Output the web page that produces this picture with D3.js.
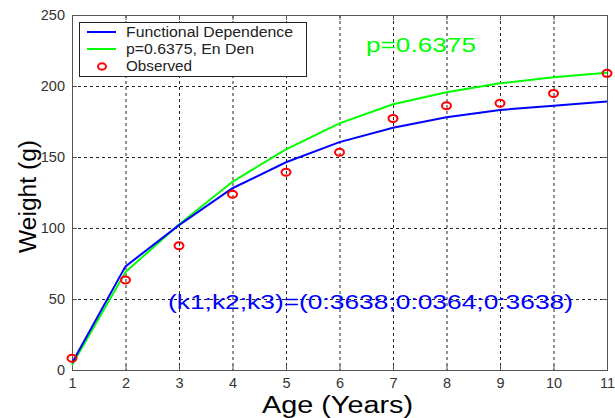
<!DOCTYPE html>
<html>
<head>
<meta charset="utf-8">
<script src="https://cdn.jsdelivr.net/npm/d3@7"></script>
<style>
  html, body { margin: 0; padding: 0; background: #fff; }
  svg { display: block; font-family: "Liberation Sans", Arial, sans-serif; }
</style>
</head>
<body>
<svg id="chart" width="615" height="418"></svg>
<script>
// Ages (years)
const ages = [1, 2, 3, 4, 5, 6, 7, 8, 9, 10, 11];
// Functional dependence model
const functionalWeight = [5, 73, 102, 128, 146.3, 160.5, 170.6, 178, 183.1, 186.1, 189];
// p = 0.6375, En Den model
const enDenWeight = [3.5, 69, 102.5, 132.6, 155.4, 173.7, 187.1, 195.6, 201.9, 206.1, 209.4];
// Observed weights
const observedWeight = [8.2, 63.4, 87.5, 123.7, 139.2, 153.3, 177.2, 186.1, 187.8, 194.8, 208.9];

const xTicks = [1, 2, 3, 4, 5, 6, 7, 8, 9, 10, 11];
const yTicks = [0, 50, 100, 150, 200, 250];
const legendLabels = ["Functional Dependence", "p=0.6375, En Den", "Observed"];
const pLabel = "p=0.6375";
const kLabel = "(k1;k2;k3)=(0:3638;0:0364;0:3638)";

const svg = d3.select("#chart");
const plotLeft = 72, plotRight = 607, plotTop = 15, plotBottom = 370;

const x = d3.scaleLinear().domain([1, 11]).range([plotLeft, plotRight]);
const y = d3.scaleLinear().domain([0, 250]).range([plotBottom, plotTop]);

const axisColor = "#555";
const gridColor = "#222";

// Dashed grid
const grid = svg.append("g");
grid.selectAll("line.vx").data(xTicks.slice(1, -1)).join("line")
  .attr("x1", d => x(d) + 0.5).attr("x2", d => x(d) + 0.5)
  .attr("y1", plotTop).attr("y2", plotBottom)
  .attr("stroke", gridColor).attr("stroke-width", 1).attr("stroke-dasharray", "3,3");
grid.selectAll("line.hy").data(yTicks.slice(1, -1)).join("line")
  .attr("x1", plotLeft).attr("x2", plotRight)
  .attr("y1", d => Math.round(y(d)) + 0.5).attr("y2", d => Math.round(y(d)) + 0.5)
  .attr("stroke", gridColor).attr("stroke-width", 1).attr("stroke-dasharray", "3,3");

// Axes
const xAxis = d3.axisBottom(x).tickValues(xTicks).tickSize(-5).tickPadding(8).tickFormat(d3.format("d"));
const yAxis = d3.axisLeft(y).tickValues(yTicks).tickSize(-5).tickPadding(7);
const xAxisTop = d3.axisTop(x).tickValues(xTicks).tickSize(-5).tickFormat("");
const yAxisRight = d3.axisRight(y).tickValues(yTicks).tickSize(-5).tickFormat("");

function styleAxis(g) {
  g.select(".domain").remove();
  g.selectAll(".tick line").attr("stroke", axisColor);
  g.selectAll(".tick text").attr("fill", "#333").style("font-size", "14.5px")
    .style("font-family", "'Liberation Sans', Arial, sans-serif");
}
svg.append("g").attr("transform", `translate(0,${plotBottom})`).call(xAxis).call(styleAxis);
svg.append("g").attr("transform", `translate(${plotLeft},0)`).call(yAxis).call(styleAxis);
svg.append("g").attr("transform", `translate(0,${plotTop})`).call(xAxisTop).call(styleAxis);
svg.append("g").attr("transform", `translate(${plotRight},0)`).call(yAxisRight).call(styleAxis);

// Frame
svg.append("rect")
  .attr("x", plotLeft + 0.5).attr("y", plotTop + 0.5)
  .attr("width", plotRight - plotLeft).attr("height", plotBottom - plotTop)
  .attr("fill", "none").attr("stroke", axisColor).attr("stroke-width", 1);

// Model curves
const line = d3.line().x(d => x(d[0])).y(d => y(d[1]));
svg.append("path")
  .datum(ages.map((a, i) => [a, enDenWeight[i]]))
  .attr("d", line).attr("fill", "none").attr("stroke", "#00ff00").attr("stroke-width", 2);
svg.append("path")
  .datum(ages.map((a, i) => [a, functionalWeight[i]]))
  .attr("d", line).attr("fill", "none").attr("stroke", "#0000ff").attr("stroke-width", 2);

// Observed points
svg.append("g").selectAll("ellipse").data(ages.map((a, i) => [a, observedWeight[i]])).join("ellipse")
  .attr("cx", d => x(d[0])).attr("cy", d => y(d[1]))
  .attr("rx", 4.5).attr("ry", 3.5)
  .attr("fill", "none").attr("stroke", "#ff0000").attr("stroke-width", 2);

// Annotations
svg.append("text").attr("x", 366).attr("y", 52).attr("fill", "#00ff00")
  .style("font-size", "21px").attr("textLength", 110).attr("lengthAdjust", "spacingAndGlyphs")
  .text(pLabel);
svg.append("text").attr("x", 168).attr("y", 309).attr("fill", "#0000ff")
  .style("font-size", "20px").attr("textLength", 405).attr("lengthAdjust", "spacingAndGlyphs")
  .text(kLabel);

// Legend
const lg = svg.append("g");
lg.append("rect").attr("x", 79.5).attr("y", 22.5).attr("width", 227).attr("height", 54)
  .attr("fill", "#fff").attr("stroke", "#222").attr("stroke-width", 1);
const legendColors = ["#0000ff", "#00ff00", "#ff0000"];
const legendWidths = [167, 128, 66];
legendLabels.forEach((label, i) => {
  const cy = 32 + i * 17;
  if (i < 2) {
    lg.append("line").attr("x1", 87).attr("x2", 116).attr("y1", cy).attr("y2", cy)
      .attr("stroke", legendColors[i]).attr("stroke-width", 2);
  } else {
    lg.append("ellipse").attr("cx", 102).attr("cy", cy + 0.5).attr("rx", 4).attr("ry", 3.2)
      .attr("fill", "none").attr("stroke", legendColors[i]).attr("stroke-width", 2);
  }
  lg.append("text").attr("x", 126).attr("y", cy + 5).attr("fill", "#222")
    .style("font-size", "14px").attr("textLength", legendWidths[i])
    .attr("lengthAdjust", "spacingAndGlyphs").text(label);
});

// Axis titles
svg.append("text").attr("x", 262).attr("y", 413)
  .attr("fill", "#000").style("font-size", "23px")
  .attr("textLength", 151).attr("lengthAdjust", "spacingAndGlyphs").text("Age (Years)");
svg.append("text").attr("transform", "translate(36,253) rotate(-90)")
  .attr("fill", "#000").style("font-size", "23px")
  .attr("textLength", 113).attr("lengthAdjust", "spacingAndGlyphs").text("Weight (g)");
</script>
</body>
</html>
